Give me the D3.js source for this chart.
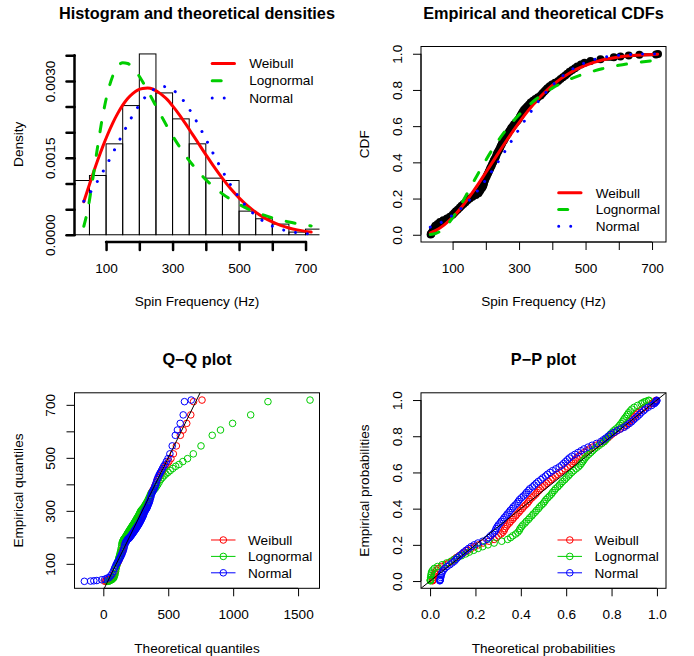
<!DOCTYPE html>
<html>
<head>
<meta charset="utf-8">
<title>Fit comparison plots</title>
<script src="https://d3js.org/d3.v7.min.js"></script>
<style>
  body { margin: 0; background: #fff; }
  svg text { font-family: "Liberation Sans", Arial, Helvetica, sans-serif; fill: #000; }
</style>
</head>
<body>
<script>
// ---- values ----
const seriesNames = ["Weibull", "Lognormal", "Normal"];
const seriesColors = ["#FF0000", "#00CD00", "#0000FF"];

// histogram (density per bin of 50 Hz, x 1e-3)
const histBreaks = [0, 50, 100, 150, 200, 250, 300, 350, 400, 450, 500, 550, 600, 650, 700, 750];
const histDensity = [1.058, 1.156, 1.773, 2.519, 3.526, 2.766, 2.26, 1.773, 1.104, 1.058, 0.461, 0.312, 0.208, 0.052, 0.110];
const densityUnit = 1e-3;

// theoretical densities (x 1e-3)
const densX = [33, 45, 60, 75, 90, 105, 120, 135, 150, 165, 180, 195, 210, 225, 240, 255, 270, 285, 300, 320,
  340, 360, 380, 400, 425, 450, 475, 500, 525, 550, 575, 600, 625, 650, 675, 700, 717];
const densWeibull = [0.643, 0.884, 1.176, 1.457, 1.719, 1.960, 2.178, 2.367, 2.529, 2.658, 2.753, 2.822, 2.852, 2.861,
  2.842, 2.787, 2.719, 2.630, 2.513, 2.344, 2.156, 1.958, 1.760, 1.563, 1.323, 1.099, 0.896, 0.719, 0.566, 0.438,
  0.334, 0.250, 0.184, 0.133, 0.095, 0.066, 0.052];
const densLognormal = [0.166, 0.492, 1.085, 1.736, 2.321, 2.780, 3.096, 3.281, 3.354, 3.340, 3.262, 3.138, 2.984, 2.813,
  2.633, 2.450, 2.271, 2.097, 1.931, 1.725, 1.536, 1.366, 1.213, 1.076, 0.927, 0.798, 0.687, 0.593, 0.511, 0.442,
  0.382, 0.331, 0.288, 0.250, 0.218, 0.190, 0.173];
const densNormal = [0.653, 0.756, 0.898, 1.054, 1.223, 1.402, 1.589, 1.779, 1.968, 2.152, 2.326, 2.484, 2.622, 2.735,
  2.819, 2.872, 2.891, 2.876, 2.828, 2.714, 2.551, 2.348, 2.116, 1.868, 1.551, 1.247, 0.969, 0.730, 0.531, 0.375,
  0.255, 0.169, 0.108, 0.067, 0.040, 0.023, 0.016];

// theoretical CDFs
const cdfX = [33, 50, 75, 100, 125, 150, 175, 200, 225, 250, 275, 300, 325, 350, 375, 400, 425, 450, 475, 500, 550, 600, 650, 700, 717];
const cdfWeibull = [0.0104, 0.0243, 0.0548, 0.0967, 0.148, 0.208, 0.274, 0.344, 0.415, 0.486, 0.555, 0.620, 0.680,
  0.735, 0.783, 0.825, 0.861, 0.891, 0.916, 0.936, 0.965, 0.982, 0.991, 0.996, 0.997];
const cdfLognormal = [0.001, 0.0077, 0.0376, 0.093, 0.1665, 0.249, 0.332, 0.412, 0.486, 0.553, 0.612, 0.663, 0.708,
  0.747, 0.781, 0.810, 0.835, 0.857, 0.875, 0.891, 0.917, 0.936, 0.950, 0.961, 0.964];
const cdfNormal = [0.0423, 0.0546, 0.0778, 0.1077, 0.145, 0.1903, 0.2433, 0.3035, 0.3694, 0.4395, 0.5116, 0.5832,
  0.6522, 0.7165, 0.7745, 0.825, 0.8678, 0.9027, 0.9303, 0.9515, 0.9784, 0.9914, 0.997, 0.9991, 0.9994];

// empirical probabilities and sorted spin frequencies (Hz)
const empProb = [0.00125, 0.00375, 0.00625, 0.01, 0.02, 0.03, 0.04,
  0.05, 0.06, 0.07, 0.08, 0.09,
  0.10, 0.11, 0.12, 0.13, 0.14, 0.15, 0.16, 0.17, 0.18, 0.19,
  0.20, 0.21, 0.22, 0.23, 0.24, 0.25, 0.26, 0.27, 0.28, 0.29,
  0.30, 0.31, 0.32, 0.33, 0.34, 0.35, 0.36, 0.37, 0.38, 0.39,
  0.40, 0.41, 0.42, 0.43, 0.44, 0.45, 0.46, 0.47, 0.48, 0.49,
  0.50, 0.51, 0.52, 0.53, 0.54, 0.55, 0.56, 0.57, 0.58, 0.59,
  0.60, 0.61, 0.62, 0.63, 0.64, 0.65, 0.66, 0.67, 0.68, 0.69,
  0.70, 0.71, 0.72, 0.73, 0.74, 0.75, 0.76, 0.77, 0.78, 0.79,
  0.80, 0.81, 0.82, 0.83, 0.84, 0.85, 0.86, 0.87, 0.88, 0.89,
  0.90, 0.91, 0.92, 0.93, 0.94, 0.95,
  0.96, 0.97, 0.98, 0.985, 0.99, 0.99375, 0.99625, 0.99875];
const empQuant = [34, 35, 36, 37, 40, 42, 46,
  48, 55, 62, 72, 83,
  92, 100, 105, 110, 116, 122, 127, 133, 139, 145,
  152, 160, 170, 178, 182, 185, 189, 192, 194, 195,
  197, 199, 202, 204, 207, 209, 212, 214, 217, 219,
  222, 224, 227, 230, 232, 234, 237, 240, 243, 245,
  248, 250, 254, 257, 260, 263, 267, 270, 274, 277,
  281, 285, 290, 295, 299, 302, 305, 308, 311, 315,
  320, 325, 330, 335, 342, 349, 357, 365, 370, 375,
  380, 385, 392, 399, 408, 418, 425, 432, 439, 445,
  452, 460, 468, 475, 486, 497,
  515, 545, 585, 605, 630, 662, 712, 718];

// Q-Q: theoretical quantiles
const qqWeibull = [11.7, 20.0, 25.7, 32.3, 45.5, 55.5, 64.1,
  71.6, 78.5, 84.9, 90.8, 96.4,
  101.8, 106.9, 111.8, 116.6, 121.2, 125.7, 130.1, 134.4, 138.6, 142.7,
  146.7, 150.7, 154.6, 158.5, 162.3, 166.1, 169.8, 173.5, 177.2, 180.8,
  184.5, 188.1, 191.6, 195.2, 198.7, 202.2, 205.8, 209.3, 212.8, 216.3,
  219.8, 223.3, 226.8, 230.3, 233.8, 237.3, 240.8, 244.4, 247.9, 251.5,
  255.1, 258.7, 262.3, 265.9, 269.6, 273.3, 277.0, 280.8, 284.6, 288.4,
  292.3, 296.2, 300.1, 304.1, 308.2, 312.3, 316.5, 320.7, 325.0, 329.4,
  333.9, 338.5, 343.1, 347.9, 352.7, 357.7, 362.8, 368.0, 373.4, 379.0,
  384.7, 390.6, 396.8, 403.2, 409.9, 416.8, 424.2, 431.9, 440.1, 448.8,
  458.1, 468.2, 479.3, 491.5, 505.2, 520.9,
  539.4, 562.5, 593.3, 614.2, 642.5, 673.6, 695, 760];
const qqLognormal = [34.2, 42.7, 47.8, 53.1, 63.1, 70.3, 76.3,
  81.6, 86.3, 90.8, 94.9, 98.8,
  102.6, 106.2, 109.7, 113.1, 116.5, 119.7, 123.0, 126.1, 129.2, 132.3,
  135.4, 138.4, 141.4, 144.4, 147.4, 150.4, 153.4, 156.3, 159.3, 162.3,
  165.3, 168.3, 171.3, 174.3, 177.4, 180.5, 183.6, 186.6, 189.8, 192.9,
  196.1, 199.2, 202.5, 205.9, 209.1, 212.5, 215.9, 219.4, 222.9, 226.4,
  230.0, 233.7, 237.4, 241.1, 245.0, 249.0, 252.9, 257.0, 261.2, 265.5,
  269.8, 274.2, 278.7, 283.5, 288.2, 293.2, 298.2, 303.5, 308.9, 314.4,
  320.0, 325.9, 332.1, 338.4, 344.9, 351.7, 358.8, 366.4, 374.1, 382.2,
  390.8, 399.9, 409.4, 419.5, 430.2, 441.8, 454.2, 467.5, 482.2, 498.3,
  515.7, 535.3, 557.4, 582.9, 612.7, 648.4,
  693.1, 752.3, 838.9, 902.5, 995.7, 1135, 1268, 1592];
const qqNormal = [-146, -98, -73, -50, -12.5, 11.4, 29.4,
  44, 56.4, 67.3, 77.1, 86,
  94.1, 101.7, 108.8, 115.6, 122, 128, 133.8, 139.3, 144.7, 149.8,
  154.9, 159.8, 164.5, 169, 173.6, 178, 182.3, 186.4, 190.5, 194.7,
  198.6, 202.6, 206.4, 210.3, 214.1, 217.9, 221.6, 225.2, 228.9, 232.5,
  236, 239.5, 243.1, 246.7, 250.2, 253.6, 257.2, 260.6, 264.1, 267.6,
  271, 274.5, 277.9, 281.4, 284.8, 288.4, 291.8, 295.3, 298.9, 302.5,
  306, 309.5, 313.1, 316.8, 320.4, 324.1, 327.9, 331.7, 335.6, 339.4,
  343.4, 347.3, 351.5, 355.6, 359.7, 364, 368.4, 373, 377.5, 382.2,
  387.1, 392.2, 397.3, 402.7, 408.2, 414, 420, 426.4, 433.2, 440.3,
  447.9, 456.1, 464.9, 474.7, 485.6, 498,
  512.6, 530.6, 554.5, 570.5, 592, 615.3, 625, 677];

// P-P: theoretical probabilities
const ppWeibull = [0.0111, 0.0117, 0.0124, 0.0132, 0.0154, 0.017, 0.0205,
  0.0223, 0.0294, 0.0374, 0.0505, 0.067,
  0.0821, 0.0967, 0.1063, 0.1163, 0.1288, 0.1418, 0.1529, 0.1668, 0.181, 0.1957,
  0.2133, 0.234, 0.2605, 0.2822, 0.2932, 0.3016, 0.3127, 0.3211, 0.3266, 0.3295,
  0.3351, 0.3408, 0.3492, 0.355, 0.3635, 0.3693, 0.3778, 0.3835, 0.392, 0.3978,
  0.4063, 0.412, 0.4206, 0.4291, 0.4349, 0.4406, 0.449, 0.4576, 0.4661, 0.4718,
  0.4802, 0.486, 0.497, 0.5054, 0.5137, 0.5219, 0.5329, 0.541, 0.5519, 0.560,
  0.5706, 0.5811, 0.5941, 0.607, 0.6172, 0.6247, 0.6321, 0.6395, 0.6468, 0.6565,
  0.6683, 0.680, 0.6913, 0.7024, 0.7176, 0.7324, 0.7486, 0.7643, 0.7737, 0.783,
  0.7918, 0.8006, 0.8123, 0.8236, 0.8373, 0.8517, 0.8611, 0.8701, 0.8787, 0.8858,
  0.8935, 0.902, 0.9098, 0.916, 0.9257, 0.9342,
  0.9464, 0.9626, 0.9777, 0.983, 0.988, 0.9925, 0.9966, 0.9969];
const ppLognormal = [0.0012, 0.0014, 0.0016, 0.0019, 0.0027, 0.0035, 0.0053,
  0.0064, 0.0116, 0.0187, 0.0326, 0.0528,
  0.0729, 0.093, 0.1066, 0.1208, 0.1386, 0.157, 0.1729, 0.1923, 0.212, 0.232,
  0.2554, 0.2823, 0.3157, 0.342, 0.3551, 0.3648, 0.3776, 0.3872, 0.3935, 0.3966,
  0.4029, 0.4091, 0.4184, 0.4245, 0.4336, 0.4396, 0.4485, 0.4544, 0.4632, 0.469,
  0.4776, 0.4833, 0.4917, 0.5, 0.5055, 0.511, 0.519, 0.527, 0.5348, 0.540,
  0.5476, 0.553, 0.5626, 0.570, 0.5771, 0.5843, 0.5936, 0.6004, 0.6094, 0.616,
  0.6247, 0.6332, 0.6435, 0.6536, 0.6614, 0.6672, 0.6729, 0.6785, 0.684, 0.6912,
  0.6999, 0.7085, 0.7167, 0.7248, 0.7356, 0.746, 0.7574, 0.768, 0.7748, 0.781,
  0.7873, 0.7933, 0.8013, 0.809, 0.8185, 0.8285, 0.8351, 0.8415, 0.8476, 0.8526,
  0.8582, 0.8644, 0.8702, 0.875, 0.8825, 0.8893,
  0.8996, 0.9146, 0.9308, 0.9376, 0.9451, 0.9533, 0.9636, 0.9646];
const ppNormal = [0.043, 0.0436, 0.0443, 0.045, 0.047, 0.0485, 0.0515,
  0.053, 0.0588, 0.065, 0.0747, 0.0866,
  0.0973, 0.1077, 0.1145, 0.1216, 0.1307, 0.140, 0.1484, 0.1587, 0.1694, 0.1806,
  0.1943, 0.2107, 0.2321, 0.250, 0.2595, 0.2666, 0.2762, 0.2835, 0.2884, 0.2908,
  0.2959, 0.3008, 0.3085, 0.3137, 0.3214, 0.3267, 0.3345, 0.3398, 0.3478, 0.3531,
  0.3613, 0.3667, 0.3749, 0.3832, 0.3887, 0.3943, 0.4027, 0.4111, 0.4196, 0.4253,
  0.4338, 0.4396, 0.451, 0.4596, 0.4682, 0.4769, 0.4884, 0.497, 0.5087, 0.5173,
  0.5289, 0.5404, 0.5548, 0.569, 0.5804, 0.5889, 0.5973, 0.6057, 0.6141, 0.6251,
  0.6387, 0.6522, 0.6655, 0.6786, 0.6966, 0.714, 0.7334, 0.752, 0.7634, 0.7745,
  0.7852, 0.7956, 0.8097, 0.8232, 0.8396, 0.8566, 0.8678, 0.8783, 0.8883, 0.8963,
  0.9052, 0.9146, 0.9233, 0.9303, 0.9404, 0.9493,
  0.9615, 0.9765, 0.9886, 0.9922, 0.9954, 0.9977, 0.9993, 0.9994];

// axis ticks and labels
const freqTicks = [100, 200, 300, 400, 500, 600, 700];
const freqTickLabels = ["100", "", "300", "", "500", "", "700"];
const densTicks = [0, 0.0005, 0.001, 0.0015, 0.002, 0.0025, 0.003, 0.0035];
const densTickLabels = ["0.0000", "", "", "0.0015", "", "", "0.0030", ""];
const probTicks = [0, 0.2, 0.4, 0.6, 0.8, 1.0];
const probTickLabels = ["0.0", "0.2", "0.4", "0.6", "0.8", "1.0"];
const theoQuantTicks = [0, 500, 1000, 1500];
const theoQuantTickLabels = ["0", "500", "1000", "1500"];
const empQuantTicks = [100, 200, 300, 400, 500, 600, 700];
const empQuantTickLabels = ["100", "", "300", "", "500", "", "700"];

// ---- layout ----
const svg = d3.select("body").append("svg").attr("width", 694).attr("height", 656);
const defs = svg.append("defs");
const plotL = 74.5, plotR = 319.5, plotT = 46.5, plotB = 242;
const panelOrigins = [[0, 0], [346.5, 0], [0, 346.3], [346.5, 346.3]];
const fs = 13.6;
const lineDash = [null, "9 15", "0.01 12"];

function makePanel(i, title, xlab, ylab) {
  const g = svg.append("g").attr("transform", `translate(${panelOrigins[i][0]},${panelOrigins[i][1]})`);
  defs.append("clipPath").attr("id", "clip" + i).append("rect")
    .attr("x", plotL).attr("y", plotT).attr("width", plotR - plotL).attr("height", plotB - plotT);
  g.append("text").attr("x", (plotL + plotR) / 2).attr("y", 19).attr("text-anchor", "middle")
    .attr("font-weight", "bold").attr("font-size", 16.3).text(title);
  g.append("text").attr("x", (plotL + plotR) / 2).attr("y", 306.3).attr("text-anchor", "middle")
    .attr("font-size", fs).text(xlab);
  g.append("text").attr("transform", `translate(22.8,${(plotT + plotB) / 2}) rotate(-90)`)
    .attr("text-anchor", "middle").attr("font-size", fs).text(ylab);
  const inner = g.append("g").attr("clip-path", `url(#clip${i})`);
  return { g, inner };
}

function bottomAxis(g, scale, ticks, labels, width) {
  const ax = g.append("g").attr("transform", `translate(0,${plotB})`)
    .call(d3.axisBottom(scale).tickValues(ticks).tickSize(8).tickSizeOuter(0).tickFormat((d, i) => labels[i]));
  ax.select(".domain").remove();
  ax.append("line").attr("x1", scale(ticks[0])).attr("x2", scale(ticks[ticks.length - 1]));
  ax.selectAll("line").attr("stroke", "#000").attr("stroke-width", width)
    .attr("stroke-linecap", width > 1 ? "round" : "butt");
  ax.attr("font-size", null).attr("font-family", null);
  ax.selectAll("text").attr("y", 30.5).attr("dy", null).attr("font-size", fs);
}

function leftAxis(g, scale, ticks, labels, width) {
  const ax = g.append("g").attr("transform", `translate(${plotL},0)`)
    .call(d3.axisLeft(scale).tickValues(ticks).tickSize(8).tickSizeOuter(0).tickFormat((d, i) => labels[i]));
  ax.select(".domain").remove();
  ax.append("line").attr("y1", scale(ticks[0])).attr("y2", scale(ticks[ticks.length - 1]));
  ax.selectAll("line").attr("stroke", "#000").attr("stroke-width", width)
    .attr("stroke-linecap", width > 1 ? "round" : "butt");
  ax.attr("font-size", null).attr("font-family", null);
  ax.selectAll("text").attr("x", 0).attr("y", -19.2).attr("dy", null)
    .attr("transform", "rotate(-90)").attr("text-anchor", "middle").attr("font-size", fs);
}

function box(g) {
  g.append("rect").attr("x", plotL).attr("y", plotT).attr("width", plotR - plotL).attr("height", plotB - plotT)
    .attr("fill", "none").attr("stroke", "#000").attr("stroke-width", 1);
}

function lineLegend(g, x0, y0, step) {
  seriesNames.forEach((name, i) => {
    const y = y0 + i * step;
    g.append("line").attr("x1", x0).attr("x2", x0 + 22.3).attr("y1", y).attr("y2", y)
      .attr("stroke", seriesColors[i]).attr("stroke-width", 3).attr("stroke-linecap", "round")
      .attr("stroke-dasharray", lineDash[i]);
    g.append("text").attr("x", x0 + 37).attr("y", y).attr("dy", "0.35em").attr("font-size", fs).text(name);
  });
}

function pointLegend(g, x0, y0, step) {
  seriesNames.forEach((name, i) => {
    const y = y0 + i * step;
    g.append("line").attr("x1", x0).attr("x2", x0 + 24.5).attr("y1", y).attr("y2", y)
      .attr("stroke", seriesColors[i]).attr("stroke-width", 1);
    g.append("circle").attr("cx", x0 + 12.3).attr("cy", y).attr("r", 3.3)
      .attr("fill", "none").attr("stroke", seriesColors[i]).attr("stroke-width", 1);
    g.append("text").attr("x", x0 + 37).attr("y", y).attr("dy", "0.35em").attr("font-size", fs).text(name);
  });
}

function curve(inner, xs, ys, sx, sy, i, k) {
  inner.append("path").datum(ys)
    .attr("d", d3.line().x((d, j) => sx(xs[j])).y(d => sy(d * k)).curve(d3.curveMonotoneX))
    .attr("fill", "none").attr("stroke", seriesColors[i]).attr("stroke-width", 3)
    .attr("stroke-linecap", "round").attr("stroke-dasharray", lineDash[i]);
}

function pointCloud(inner, xs, ys, sx, sy, color) {
  inner.append("g").selectAll("circle").data(ys).join("circle")
    .attr("cx", (d, j) => sx(xs[j])).attr("cy", d => sy(d)).attr("r", 3.3)
    .attr("fill", "none").attr("stroke", color).attr("stroke-width", 1);
}

// ---- panel 1: histogram and theoretical densities ----
{
  const { g, inner } = makePanel(0, "Histogram and theoretical densities", "Spin Frequency (Hz)", "Density");
  const x = d3.scaleLinear().domain([5, 742]).range([plotL, plotR]);
  const y = d3.scaleLinear().domain([-0.000141, 0.003671]).range([plotB, plotT]);
  inner.selectAll("rect.bar").data(histDensity).join("rect").attr("class", "bar")
    .attr("x", (d, i) => x(histBreaks[i])).attr("width", (d, i) => x(histBreaks[i + 1]) - x(histBreaks[i]))
    .attr("y", d => y(d * densityUnit)).attr("height", d => y(0) - y(d * densityUnit))
    .attr("fill", "none").attr("stroke", "#000").attr("stroke-width", 1);
  [densWeibull, densLognormal, densNormal].forEach((s, i) => curve(inner, densX, s, x, y, i, densityUnit));
  bottomAxis(g, x, freqTicks, freqTickLabels, 2.5);
  leftAxis(g, y, densTicks, densTickLabels, 2.5);
  lineLegend(g, 212.2, 63.5, 17.2);
}

// ---- panel 2: empirical and theoretical CDFs ----
{
  const { g, inner } = makePanel(1, "Empirical and theoretical CDFs", "Spin Frequency (Hz)", "CDF");
  const x = d3.scaleLinear().domain([5, 742]).range([plotL, plotR]);
  const y = d3.scaleLinear().domain([-0.04, 1.04]).range([plotB, plotT]);
  inner.append("path").datum(empProb)
    .attr("d", d3.line().x((d, j) => x(empQuant[j])).y(d => y(d)).curve(d3.curveStepAfter))
    .attr("fill", "none").attr("stroke", "#000").attr("stroke-width", 3);
  inner.append("g").selectAll("circle").data(empProb).join("circle")
    .attr("cx", (d, j) => x(empQuant[j])).attr("cy", d => y(d)).attr("r", 4).attr("fill", "#000");
  [cdfWeibull, cdfLognormal, cdfNormal].forEach((s, i) => curve(inner, cdfX, s, x, y, i, 1));
  box(g);
  bottomAxis(g, x, freqTicks, freqTickLabels, 1);
  leftAxis(g, y, probTicks, probTickLabels, 1);
  lineLegend(g, 212.2, 192.8, 16.7);
}

// ---- panel 3: Q-Q plot ----
{
  const { g, inner } = makePanel(2, "Q\u2212Q plot", "Theoretical quantiles", "Empirical quantiles");
  const x = d3.scaleLinear().domain([-222, 1665]).range([plotL, plotR]);
  const y = d3.scaleLinear().domain([7.7, 745.4]).range([plotB, plotT]);
  [qqWeibull, qqLognormal, qqNormal].forEach((s, i) => pointCloud(inner, s, empQuant, x, y, seriesColors[i]));
  inner.append("line").attr("x1", x(-222)).attr("y1", y(-222)).attr("x2", x(1665)).attr("y2", y(1665))
    .attr("stroke", "#000").attr("stroke-width", 1);
  box(g);
  bottomAxis(g, x, theoQuantTicks, theoQuantTickLabels, 1);
  leftAxis(g, y, empQuantTicks, empQuantTickLabels, 1);
  pointLegend(g, 211, 193.7, 16.4);
}

// ---- panel 4: P-P plot ----
{
  const { g, inner } = makePanel(3, "P\u2212P plot", "Theoretical probabilities", "Empirical probabilities");
  const x = d3.scaleLinear().domain([-0.04, 1.04]).range([plotL, plotR]);
  const y = d3.scaleLinear().domain([-0.04, 1.04]).range([plotB, plotT]);
  [ppWeibull, ppLognormal, ppNormal].forEach((s, i) => pointCloud(inner, s, empProb, x, y, seriesColors[i]));
  inner.append("line").attr("x1", x(-0.04)).attr("y1", y(-0.04)).attr("x2", x(1.04)).attr("y2", y(1.04))
    .attr("stroke", "#000").attr("stroke-width", 1);
  box(g);
  bottomAxis(g, x, probTicks, probTickLabels, 1);
  leftAxis(g, y, probTicks, probTickLabels, 1);
  pointLegend(g, 211, 193.7, 16.4);
}
</script>
</body>
</html>
